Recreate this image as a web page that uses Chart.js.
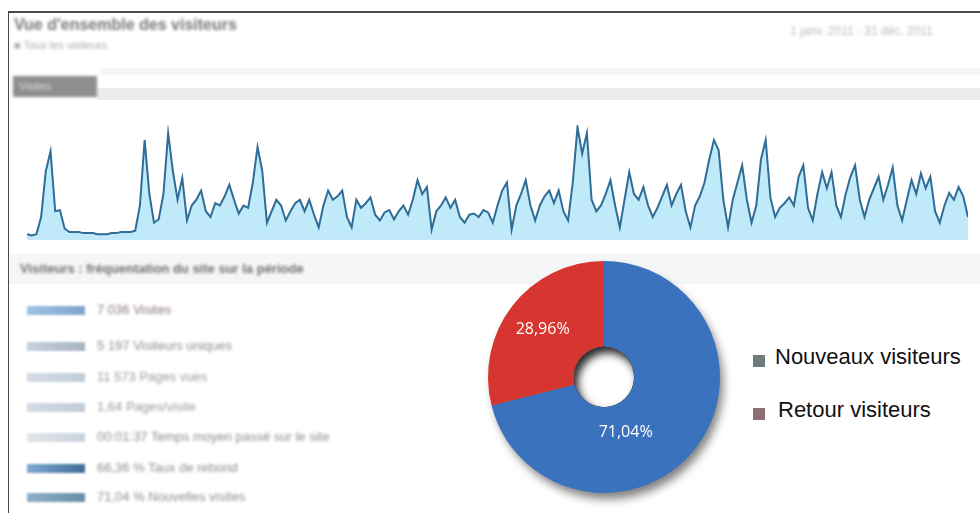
<!DOCTYPE html>
<html lang="fr">
<head>
<meta charset="utf-8">
<script src="https://cdn.jsdelivr.net/npm/chart.js@4"></script>
<style>
  body { margin: 0; background: #fff; font-family: "Liberation Sans", Arial, sans-serif; }
  #page { position: relative; width: 980px; height: 513px; overflow: hidden; }
  .frame-top { position: absolute; left: 8px; top: 11px; width: 972px; height: 2px; background: #4a4a4a; }
  .frame-left { position: absolute; left: 8px; top: 11px; width: 1px; height: 502px; background: #4a4a4a; }
  .fuzzy { position: absolute; white-space: nowrap; filter: blur(1.5px); }
  .row { font-size: 13px; color: #8c8c8c; }
  .strip { position: absolute; }
  .spark { position: absolute; left: 27px; width: 58px; height: 9px; filter: blur(1.2px); }
  #lineBox { position: absolute; left: 27px; top: 125px; width: 941px; height: 115px; filter: blur(0.5px); }
  #pieBox { position: absolute; left: 464px; top: 237px; width: 280px; height: 280px; }
  .lg-mark { position: absolute; width: 12px; height: 12px; filter: blur(0.7px); }
  .lg-text { position: absolute; font-family: "Liberation Sans", Arial, sans-serif; font-size: 22px; line-height: 22px; color: #111; white-space: nowrap; }
</style>
</head>
<body>
<div id="page">
  <div class="frame-top"></div>
  <div class="frame-left"></div>

  <div class="fuzzy" style="left:14px;top:16px;font-size:16px;font-weight:bold;color:#777;">Vue d'ensemble des visiteurs</div>
  <div class="fuzzy" style="left:14px;top:39px;font-size:11px;color:#aaa;">&#9632; Tous les visiteurs</div>
  <div class="fuzzy" style="left:790px;top:24px;font-size:12px;color:#bbb;">1 janv. 2011 - 31 déc. 2011</div>

  <div class="strip" style="left:100px;top:68px;width:880px;height:7px;background:#f6f6f6;"></div>
  <div class="strip" style="left:97px;top:88px;width:883px;height:12px;background:#ececec;"></div>
  <div class="fuzzy" style="left:13px;top:76px;width:84px;height:21px;background:#8e8e8e;color:#ddd;font-size:11px;line-height:21px;text-indent:6px;">Visites</div>

  <div id="lineBox"><canvas id="lineChart"></canvas></div>

  <div class="strip" style="left:9px;top:254px;width:971px;height:30px;background:#f5f6f7;"></div>
  <div class="fuzzy" style="left:20px;top:261px;font-size:13px;font-weight:bold;color:#6f6f6f;">Visiteurs : fréquentation du site sur la période</div>

  <div class="spark" style="top:306px;background:linear-gradient(90deg,#9fc2e4,#7fa4cc);"></div>
  <div class="fuzzy row" style="left:97px;top:302px;color:#8a7777;">7 036 Visites</div>
  <div class="spark" style="top:342px;background:linear-gradient(90deg,#c7d0dc,#a9b4c2);"></div>
  <div class="fuzzy row" style="left:97px;top:338px;">5 197 Visiteurs uniques</div>
  <div class="spark" style="top:373px;background:linear-gradient(90deg,#d5dde6,#c2ccd8);"></div>
  <div class="fuzzy row" style="left:97px;top:369px;color:#9a9a9a;">11 573 Pages vues</div>
  <div class="spark" style="top:403px;background:linear-gradient(90deg,#d3dce6,#c1cbd6);"></div>
  <div class="fuzzy row" style="left:97px;top:399px;color:#9a9a9a;">1,64 Pages/visite</div>
  <div class="spark" style="top:433px;background:linear-gradient(90deg,#e2e6ea,#c9d2dc);"></div>
  <div class="fuzzy row" style="left:97px;top:429px;">00:01:37 Temps moyen passé sur le site</div>
  <div class="spark" style="top:464px;background:linear-gradient(90deg,#7fa9d2,#3f6b95);"></div>
  <div class="fuzzy row" style="left:97px;top:460px;">66,36 % Taux de rebond</div>
  <div class="spark" style="top:493px;background:linear-gradient(90deg,#8fb0c8,#6a8ea8);"></div>
  <div class="fuzzy row" style="left:97px;top:489px;">71,04 % Nouvelles visites</div>

  <div id="pieBox"><canvas id="pieChart"></canvas></div>
  <div id="legend"></div>
</div>

<script>
// daily visits (relative scale)
const days = [];
const visits = [
  5, 4, 5, 20, 60, 77, 25, 26, 10, 7,
  7, 7, 6, 6, 6, 5, 5, 5, 6, 6,
  7, 7, 7, 8, 30, 87, 40, 15, 18, 40,
  93, 60, 35, 54, 17, 30, 35, 43, 25, 20,
  32, 30, 38, 48, 35, 23, 30, 28, 50, 81,
  60, 15, 25, 35, 30, 17, 25, 32, 35, 25,
  35, 22, 11, 30, 43, 35, 38, 43, 20, 11,
  35, 28, 32, 37, 22, 17, 24, 26, 18, 25,
  30, 22, 35, 52, 40, 46, 9, 25, 30, 37,
  28, 35, 20, 15, 22, 23, 20, 26, 24, 15,
  30, 43, 50, 9, 30, 40, 52, 30, 17, 30,
  38, 43, 32, 43, 25, 17, 50, 98, 75, 93,
  35, 25, 30, 40, 52, 30, 11, 35, 59, 40,
  35, 46, 30, 20, 28, 38, 48, 30, 40, 48,
  25, 11, 30, 38, 50, 70, 87, 78, 35, 11,
  35, 50, 65, 35, 15, 30, 70, 87, 37, 20,
  28, 32, 37, 30, 55, 65, 28, 17, 40, 59,
  45, 59, 30, 20, 40, 55, 65, 35, 20, 35,
  45, 55, 35, 48, 63, 30, 17, 35, 52, 40,
  58, 45, 55, 25, 15, 30, 41, 35, 46, 38,
  20
];
for (let i = 0; i < visits.length; i++) days.push(i + 1);

const visitorTypes = ["Nouveaux visiteurs", "Retour visiteurs"];
const visitorShare = [71.04, 28.96];
const sliceColors = ["#3a72be", "#d6362f"];
const legendColors = ["#6f7c7b", "#8d6e72"];

new Chart(document.getElementById("lineChart"), {
  type: "line",
  data: {
    labels: days,
    datasets: [{
      data: visits,
      borderColor: "#2f6c96",
      borderWidth: 2,
      backgroundColor: "rgba(150, 218, 245, 0.6)",
      fill: "origin",
      pointRadius: 0,
      tension: 0,
    }],
  },
  options: {
    responsive: true,
    maintainAspectRatio: false,
    animation: false,
    layout: { padding: 0 },
    plugins: { legend: { display: false }, tooltip: { enabled: false } },
    scales: {
      x: { display: false, offset: false },
      y: { display: false, min: 0, max: 100 },
    },
  },
});

function shade(hex, f) {
  const n = parseInt(hex.slice(1), 16);
  const c = [(n >> 16) & 255, (n >> 8) & 255, n & 255].map(v => Math.max(0, Math.min(255, Math.round(v * f))));
  return "rgb(" + c.join(",") + ")";
}

const pieDecor = {
  id: "pieDecor",
  beforeDatasetsDraw(chart) {
    const arc = chart.getDatasetMeta(0).data[0];
    if (!arc) return;
    const ctx = chart.ctx;
    ctx.save();
    ctx.shadowColor = "rgba(0,0,0,0.5)";
    ctx.shadowBlur = 10;
    ctx.shadowOffsetX = 4;
    ctx.shadowOffsetY = 7;
    ctx.beginPath();
    ctx.arc(arc.x, arc.y, arc.outerRadius - 1, 0, Math.PI * 2);
    ctx.fillStyle = "#7a7a7a";
    ctx.fill();
    ctx.restore();
    ctx.save();
    ctx.beginPath();
    ctx.arc(arc.x, arc.y, arc.innerRadius, 0, Math.PI * 2);
    ctx.fillStyle = "#fff";
    ctx.fill();
    ctx.restore();
  },
  afterDatasetsDraw(chart, args, opts) {
    const meta = chart.getDatasetMeta(0);
    const first = meta.data[0];
    if (!first) return;
    const ctx = chart.ctx;
    const { x, y, innerRadius } = first;
    // inset shadow in the hole
    ctx.save();
    ctx.beginPath();
    ctx.arc(x, y, innerRadius, 0, Math.PI * 2);
    ctx.clip();
    ctx.shadowColor = "rgba(0,0,0,0.85)";
    ctx.shadowBlur = 9;
    ctx.shadowOffsetX = 4;
    ctx.shadowOffsetY = 6;
    ctx.beginPath();
    ctx.arc(x, y, innerRadius + 30, 0, Math.PI * 2);
    ctx.arc(x, y, innerRadius, 0, Math.PI * 2, true);
    ctx.fillStyle = "#000";
    ctx.fill();
    ctx.restore();
    // percentage labels
    ctx.save();
    ctx.font = "16px 'Open Sans', 'Noto Sans', sans-serif";
    ctx.fillStyle = "#fff";
    ctx.textAlign = "center";
    ctx.textBaseline = "middle";
    meta.data.forEach((el, i) => {
      const a = el.startAngle + (el.endAngle - el.startAngle) * opts.labelFrac[i];
      const r = el.outerRadius * opts.labelRad[i];
      const txt = chart.data.datasets[0].data[i].toFixed(2).replace(".", ",") + "%";
      ctx.fillText(txt, el.x + Math.cos(a) * r, el.y + Math.sin(a) * r);
    });
    ctx.restore();
  },
};

const pie = new Chart(document.getElementById("pieChart"), {
  type: "doughnut",
  data: {
    labels: visitorTypes,
    datasets: [{
      data: visitorShare,
      borderWidth: 0,
      backgroundColor: (c) => {
        const base = sliceColors[c.dataIndex];
        const el = c.element;
        if (!el || !el.outerRadius) return base;
        const g = c.chart.ctx.createRadialGradient(el.x, el.y, el.innerRadius, el.x, el.y, el.outerRadius);
        g.addColorStop(0, shade(base, 0.88));
        g.addColorStop(0.25, base);
        g.addColorStop(0.8, base);
        g.addColorStop(1, shade(base, 0.9));
        return g;
      },
    }],
  },
  options: {
    responsive: true,
    maintainAspectRatio: false,
    animation: false,
    cutout: "26%",
    layout: { padding: 24 },
    plugins: {
      legend: { display: false },
      tooltip: { enabled: false },
      pieDecor: { labelFrac: [0.62, 0.5], labelRad: [0.51, 0.67] },
    },
  },
  plugins: [pieDecor],
});

// legend beside the doughnut
const legend = document.getElementById("legend");
const legendTop = [355, 408];
const textTop = [346, 399];
pie.data.labels.forEach((lab, i) => {
  const m = document.createElement("div");
  m.className = "lg-mark";
  m.style.left = "753px";
  m.style.top = legendTop[i] + "px";
  m.style.background = legendColors[i];
  legend.appendChild(m);
  const t = document.createElement("div");
  t.className = "lg-text";
  t.style.left = (i === 0 ? 775 : 778) + "px";
  t.style.top = textTop[i] + "px";
  t.textContent = lab;
  legend.appendChild(t);
});
</script>
</body>
</html>
